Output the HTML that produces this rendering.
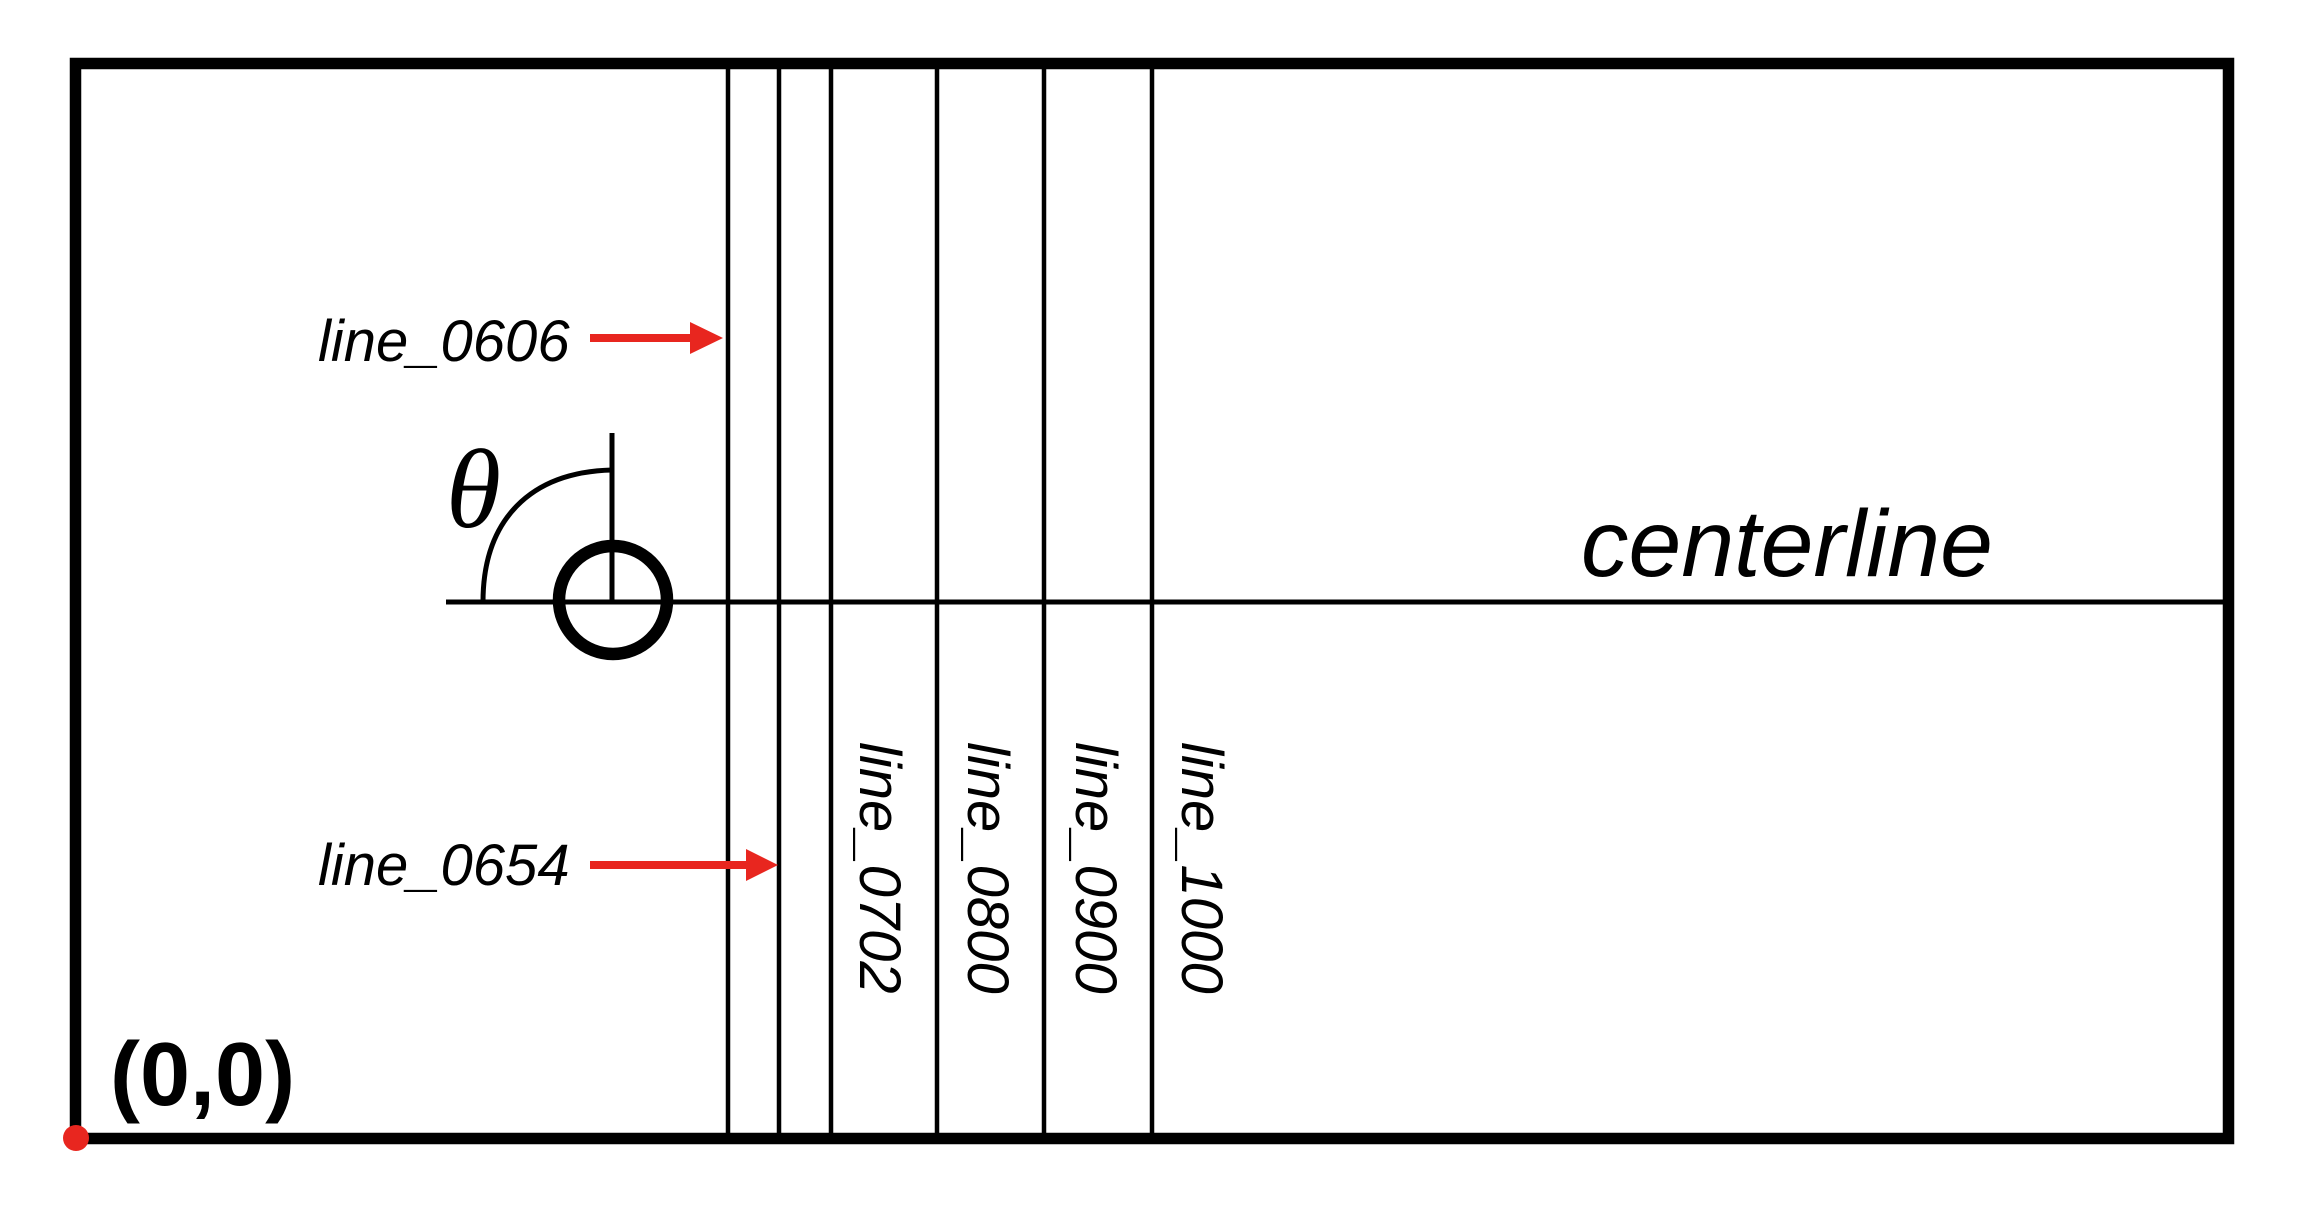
<!DOCTYPE html>
<html><head><meta charset="utf-8"><style>
html,body{margin:0;padding:0;background:#fff;}
svg{display:block;}
text{font-family:"Liberation Sans",sans-serif;}
</style></head><body>
<svg width="2300" height="1205" viewBox="0 0 2300 1205" xmlns="http://www.w3.org/2000/svg">
<rect x="0" y="0" width="2300" height="1205" fill="#fff"/>
<!-- vertical lines -->
<g stroke="#000" stroke-width="4.5">
<line x1="728" y1="64" x2="728" y2="1138"/>
<line x1="779" y1="64" x2="779" y2="1138"/>
<line x1="831" y1="64" x2="831" y2="1138"/>
<line x1="937" y1="64" x2="937" y2="1138"/>
<line x1="1044" y1="64" x2="1044" y2="1138"/>
<line x1="1152" y1="64" x2="1152" y2="1138"/>
</g>
<!-- centerline -->
<line x1="446" y1="602" x2="2228" y2="602" stroke="#000" stroke-width="5"/>
<!-- outer rect -->
<rect x="75.5" y="63.5" width="2153" height="1075" fill="none" stroke="#000" stroke-width="11.5"/>
<!-- theta construction -->
<line x1="612" y1="433" x2="612" y2="602" stroke="#000" stroke-width="5"/>
<path d="M612 470 C530 472 483 520 483 602" fill="none" stroke="#000" stroke-width="5"/>
<circle cx="613" cy="600" r="54" fill="none" stroke="#000" stroke-width="12.5"/>
<text x="446" y="527" font-family="Liberation Serif,serif" font-style="italic" font-size="112" style="font-family:'Liberation Serif',serif">θ</text>
<!-- labels -->
<text x="318" y="361" font-size="58" font-style="italic">line_0606</text>
<text x="318" y="885" font-size="58" font-style="italic">line_0654</text>
<!-- arrows -->
<g fill="#e8261f" stroke="none">
<rect x="590" y="334" width="102" height="8"/>
<polygon points="690,322 723,338 690,354"/>
<rect x="590" y="861" width="158" height="8"/>
<polygon points="746,849 778,865 746,881"/>
</g>
<!-- vertical labels -->
<text transform="translate(860,742) rotate(90)" font-size="58" font-style="italic">line_0702</text>
<text transform="translate(968,742) rotate(90)" font-size="58" font-style="italic">line_0800</text>
<text transform="translate(1076,742) rotate(90)" font-size="58" font-style="italic">line_0900</text>
<text transform="translate(1182,742) rotate(90)" font-size="58" font-style="italic">line_1000</text>
<!-- centerline label -->
<text x="1581" y="576" font-size="95" font-style="italic">centerline</text>
<!-- origin -->
<text x="110" y="1105" font-size="90" font-weight="bold">(0,0)</text>
<circle cx="76" cy="1138" r="13" fill="#e8261f"/>
</svg>
</body></html>
